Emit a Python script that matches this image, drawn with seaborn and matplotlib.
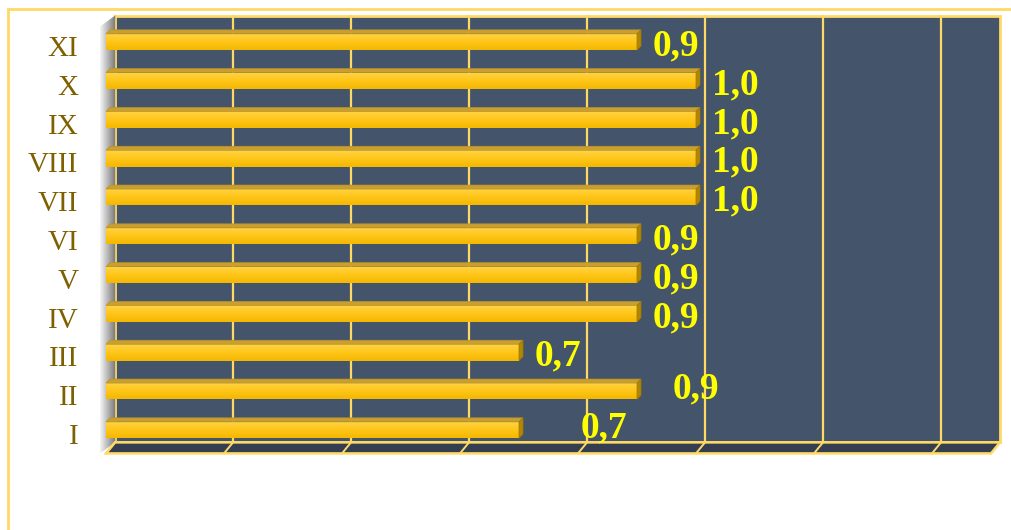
import numpy as np
import pandas as pd
import matplotlib
matplotlib.use("Agg")
import matplotlib.pyplot as plt
from matplotlib.colors import LinearSegmentedColormap
from matplotlib.patches import Polygon, Rectangle
import seaborn as sns

# données
months = ["I", "II", "III", "IV", "V", "VI", "VII", "VIII", "IX", "X", "XI"]
values = [0.7, 0.9, 0.7, 0.9, 0.9, 0.9, 1.0, 1.0, 1.0, 1.0, 0.9]
grid_ticks = [0.0, 0.2, 0.4, 0.6, 0.8, 1.0, 1.2, 1.4]
x_max = 1.5

# décalages (px) de quelques étiquettes
label_shift = {"I": (46, 6), "II": (20, 6)}

WALL = "#44546A"
FLOOR = "#333F50"
GOLD_LINE = "#FFD966"
BAR = "#FFC000"

plt.rcParams["font.family"] = ["Liberation Serif", "DejaVu Serif"]

W, H = 1011, 530
left, right, top, bottom = 106, 991, 26.6, 453.4
fig = plt.figure(figsize=(W / 100, H / 100), dpi=100)
ax = fig.add_axes([left / W, 1 - bottom / H, (right - left) / W, (bottom - top) / H])
ax.patch.set_visible(False)

df = pd.DataFrame({"mois": months, "valeur": values})
order = months[::-1]
sns.barplot(data=df, x="valeur", y="mois", order=order, orient="h", width=0.42,
            color=BAR, saturation=1, ax=ax, zorder=3, linewidth=0)

n = len(months)
ax.set_xlim(0, x_max)
ax.set_ylim(n - 0.5, -0.5)
sx = x_max / (right - left)
sy = n / (bottom - top)


def shift(x, y, px=0, py=0):
    # px vers la droite, py vers le haut
    return (x + px * sx, y - py * sy)


# profondeur du cadre 3D
DX, DY = 9, 11

bars = list(ax.patches)

# mur du fond
wall = Polygon([shift(0, n - 0.5, DX, DY), shift(x_max, n - 0.5, DX, DY),
                shift(x_max, -0.5, DX, DY), shift(0, -0.5, DX, DY)],
               closed=True, facecolor=WALL, edgecolor=GOLD_LINE, lw=2,
               zorder=0, clip_on=False)
ax.add_patch(wall)
for t in grid_ticks:
    p0 = shift(t, n - 0.5, DX, DY)
    p1 = shift(t, -0.5, DX, DY)
    ax.plot([p0[0], p1[0]], [p0[1], p1[1]], color=GOLD_LINE, lw=1.6,
            zorder=0.5, clip_on=False)

# sol
floor = Polygon([shift(0, n - 0.5), shift(x_max, n - 0.5),
                 shift(x_max, n - 0.5, DX, DY), shift(0, n - 0.5, DX, DY)],
                closed=True, facecolor=FLOOR, edgecolor=GOLD_LINE, lw=1.8,
                zorder=1, clip_on=False)
ax.add_patch(floor)
for t in grid_ticks:
    p0 = shift(t, n - 0.5)
    p1 = shift(t, n - 0.5, DX, DY)
    ax.plot([p0[0], p1[0]], [p0[1], p1[1]], color=GOLD_LINE, lw=1.4,
            zorder=1.1, clip_on=False)

# mur de gauche (dégradé gris)
steps = 15
greys = np.linspace(0.95, 0.5, steps)
for i in range(steps):
    a = -6 + i
    b = a + 1.2
    ua = (a + 6) / 15 * DY
    ub = (b + 6) / 15 * DY
    strip = Polygon([shift(0, n - 0.5, a, ua), shift(0, -0.5, a, ua),
                     shift(0, -0.5, b, ub), shift(0, n - 0.5, b, ub)],
                    closed=True, facecolor=str(greys[i]), lw=0,
                    zorder=0.8, clip_on=False)
    ax.add_patch(strip)

# barres : décalage, dégradé et faces 3D
grad_cmap = LinearSegmentedColormap.from_list("or", ["#FFD447", "#FFC61A", "#F4B800"])
grad = np.linspace(0, 1, 60).reshape(-1, 1)
BX, BY = 4, 4
for p in bars:
    p.set_y(p.get_y() - 4 * sy)
    x0, y0, w, h = p.get_x(), p.get_y(), p.get_width(), p.get_height()
    im = ax.imshow(grad, extent=(x0, x0 + w, y0 + h, y0), aspect="auto",
                   cmap=grad_cmap, zorder=3.1, interpolation="bilinear")
    im.set_clip_path(p)
    top_face = Polygon([shift(x0, y0), shift(x0 + w, y0),
                        shift(x0 + w, y0, BX, BY), shift(x0, y0, BX, BY)],
                       closed=True, facecolor="#C9A030", edgecolor="#B8922A",
                       lw=0.5, zorder=3.2, clip_on=False)
    cap = Polygon([shift(x0 + w, y0), shift(x0 + w, y0 + h),
                   shift(x0 + w, y0 + h, BX, BY), shift(x0 + w, y0, BX, BY)],
                  closed=True, facecolor="#B38600", edgecolor="#9C7800",
                  lw=0.5, zorder=3.2, clip_on=False)
    ax.add_patch(top_face)
    ax.add_patch(cap)

ax.set_xlim(0, x_max)
ax.set_ylim(n - 0.5, -0.5)

# étiquettes de valeurs
value_of = dict(zip(months, values))
for pos, m in enumerate(order):
    v = value_of[m]
    ex, ey = label_shift.get(m, (0, 0))
    ax.annotate(f"{v:.1f}".replace(".", ","), xy=(v, pos),
                xytext=(16 + ex, ey), textcoords="offset pixels",
                ha="left", va="center", fontsize=27, fontweight="bold",
                color="#FFFF00", zorder=5, annotation_clip=False)

ax.set_xticks([])
ax.set_xlabel("")
ax.set_ylabel("")
ax.tick_params(axis="y", length=0, pad=20, labelsize=21, labelcolor="#7F6000")
for s in ax.spines.values():
    s.set_visible(False)

# cadre extérieur
fig.add_artist(Rectangle((7.5 / W, -0.1), 1.2, 1 - 8.5 / H + 0.1,
                         transform=fig.transFigure, fill=False,
                         edgecolor=GOLD_LINE, lw=2))

fig.savefig("out.png", dpi=100)
